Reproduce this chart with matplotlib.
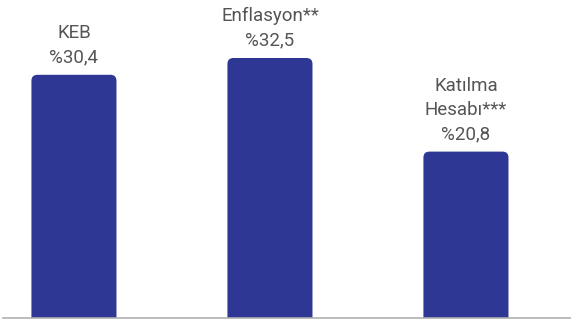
import matplotlib.pyplot as plt
from matplotlib.patches import FancyBboxPatch

labels = ["KEB", "Enflasyon**", "Katılma\nHesabı***"]
values = [30.4, 32.5, 20.8]
value_labels = ["%30,4", "%32,5", "%20,8"]

bar_color = "#2e3894"
text_color = "#555555"

fig = plt.figure(figsize=(5.71, 3.22), dpi=100)
ax = fig.add_axes([3 / 571, 4 / 322, 568 / 571, 318 / 322])

x_min, x_max = -0.362, 2.536
y_max = 39.75
ax.set_xlim(x_min, x_max)
ax.set_ylim(0, y_max)

# pixel sizes in data units, for the rounded tops
px_x = (x_max - x_min) / 568
px_y = y_max / 318
width = 0.434
radius = 6 * px_x

for i, (lab, val, vlab) in enumerate(zip(labels, values, value_labels)):
    box = FancyBboxPatch(
        (i - width / 2, -2),
        width,
        val + 2,
        boxstyle=f"round,pad=0,rounding_size={radius}",
        mutation_aspect=px_y / px_x,
        facecolor=bar_color,
        edgecolor="none",
    )
    ax.add_patch(box)
    ax.annotate(
        lab + "\n" + vlab,
        (i, val),
        xytext=(0, 6),
        textcoords="offset points",
        ha="center",
        va="bottom",
        fontsize=13.5,
        color=text_color,
        family="Roboto",
        linespacing=1.45,
    )

for s in ["top", "left", "right"]:
    ax.spines[s].set_visible(False)
ax.spines["bottom"].set_color("#b0b0b0")
ax.spines["bottom"].set_linewidth(1.2)
ax.set_xticks([])
ax.set_yticks([])

fig.savefig("out.png", dpi=100)
